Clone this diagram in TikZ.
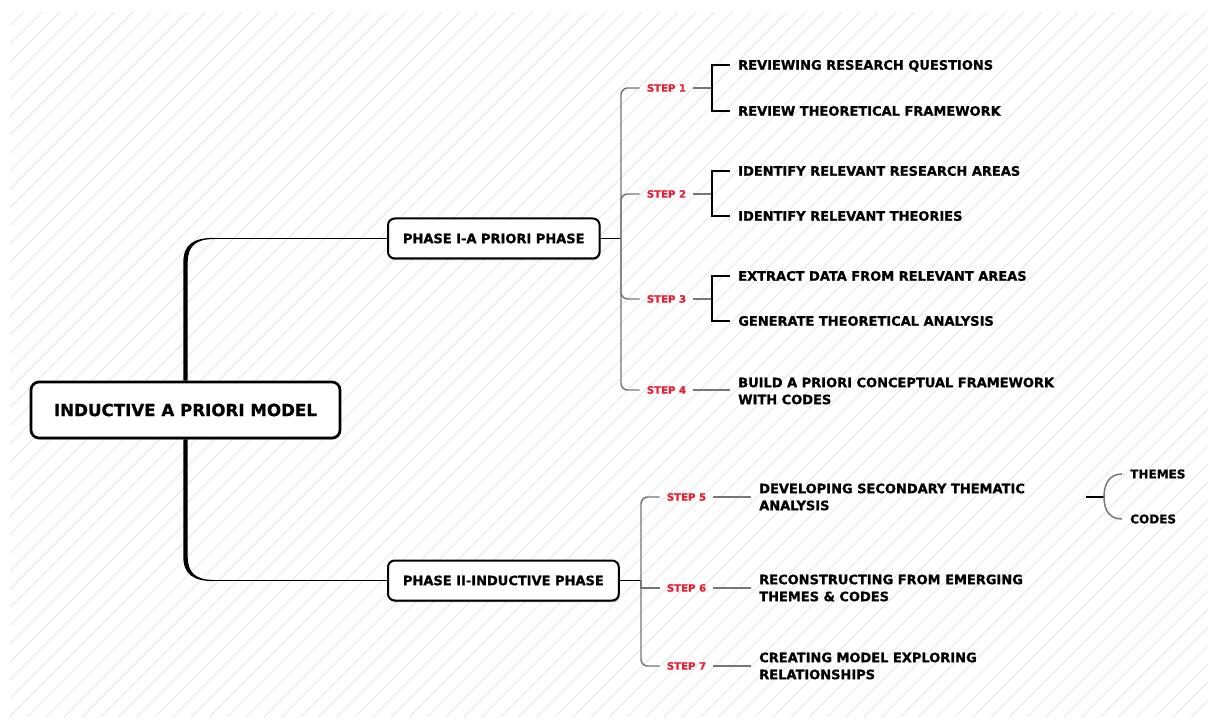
\documentclass[tikz,border=0pt]{standalone}
\usepackage{fontspec}
\setmainfont{DejaVu Sans}
\newfontfamily\heavyfont{DejaVu Sans Bold}[FakeBold=0.9]
\usetikzlibrary{shadows,calc}
\definecolor{stepred}{RGB}{236,30,52}
\definecolor{branchgray}{RGB}{118,118,118}
\definecolor{hatchgray}{RGB}{228,228,228}

\begin{document}
\begin{tikzpicture}[x=0.75pt,y=-0.75pt,
  hatch/.style={draw=hatchgray,line width=0.6pt},
  boxshadow/.style={drop shadow={shadow xshift=0.6pt,shadow yshift=-1.2pt,fill=black,opacity=0.35}},
  rootbox/.style={draw,fill=white,line width=2pt,rounded corners=6pt,
    minimum width=231.75pt,minimum height=42pt,boxshadow,
    font=\fontsize{12.5}{15}\selectfont\heavyfont},
  phasebox/.style={draw,fill=white,line width=1.5pt,rounded corners=5pt,
    minimum height=30pt,inner xsep=11.25pt,anchor=west,boxshadow,
    font=\fontsize{9.75}{12}\selectfont\heavyfont},
  steplabel/.style={text=stepred,inner xsep=5.25pt,inner ysep=0pt,
    text height=5.5pt,text depth=0pt,
    font=\fontsize{7.6}{9}\selectfont\heavyfont},
  leaf/.style={anchor=west,inner xsep=6pt,inner ysep=0pt,align=left,
    font=\fontsize{9.75}{12.75}\selectfont\heavyfont},
  oneline/.style={leaf,text height=7.1pt,text depth=0pt},
  smallleaf/.style={anchor=west,inner xsep=6pt,inner ysep=0pt,
    text height=6.6pt,text depth=0pt,
    font=\fontsize{9}{11}\selectfont\heavyfont},
  link/.style={draw=black,line width=0.9pt},
  thinlink/.style={draw=black,line width=0.8pt},
  branch/.style={draw=branchgray,line width=1.1pt},
  roundbranch/.style={branch,rounded corners=5pt}]

\useasboundingbox (0,0) rectangle (1208,720);
\fill[white] (0,0) rectangle (1208,720);

% diagonal hatching of the canvas
\begin{scope}
  \clip (10,12) rectangle (1208,717);
  \foreach \n in {-3,...,102}{
    \draw[hatch] ({72+18.18*\n-717},717) -- ({72+18.18*\n-12},12);
  }
\end{scope}

% nodes
\node[rootbox] (root) at (185.5,410) {INDUCTIVE A PRIORI MODEL};
\node[phasebox] (p1) at (387,238.5) {PHASE I-A PRIORI PHASE};
\node[phasebox] (p2) at (387,580.5) {PHASE II-INDUCTIVE PHASE};

\node[steplabel] (s1) at (666.5,88) {STEP 1};
\node[steplabel] (s2) at (666.5,194) {STEP 2};
\node[steplabel] (s3) at (666.5,299) {STEP 3};
\node[steplabel] (s4) at (666.5,390) {STEP 4};
\node[steplabel] (s5) at (686.5,497) {STEP 5};
\node[steplabel] (s6) at (686.5,588) {STEP 6};
\node[steplabel] (s7) at (686.5,666) {STEP 7};

\node[oneline] (c1a) at (730,65) {REVIEWING RESEARCH QUESTIONS};
\node[oneline] (c1b) at (730,111) {REVIEW THEORETICAL FRAMEWORK};
\node[oneline] (c2a) at (730,171) {IDENTIFY RELEVANT RESEARCH AREAS};
\node[oneline] (c2b) at (730,216) {IDENTIFY RELEVANT THEORIES};
\node[oneline] (c3a) at (730,276) {EXTRACT DATA FROM RELEVANT AREAS};
\node[oneline] (c3b) at (730,321) {GENERATE THEORETICAL ANALYSIS};
\node[leaf] (c4) at (730,391) {BUILD A PRIORI CONCEPTUAL FRAMEWORK\\WITH CODES};
\node[leaf] (c5) at (751,497) {DEVELOPING SECONDARY THEMATIC\\ANALYSIS};
\node[leaf] (c6) at (751,588) {RECONSTRUCTING FROM EMERGING\\THEMES \& CODES};
\node[leaf] (c7) at (751,666) {CREATING MODEL EXPLORING\\RELATIONSHIPS};
\node[smallleaf] (th) at (1122,474) {THEMES};
\node[smallleaf] (co) at (1122,519) {CODES};

% trunk from the root to both phases, tapering into thin lines
\coordinate (tj1) at (root.north |- p1.west);
\fill ($(root.north)+(-2.2,0)$) -- ($(tj1)+(-2.2,24)$)
  .. controls ($(tj1)+(-2.2,6)$) and ($(tj1)+(8,-0.6)$) .. ($(tj1)+(28,-0.6)$)
  -- ($(tj1)+(28,0.6)$)
  .. controls ($(tj1)+(10,0.6)$) and ($(tj1)+(2.2,8)$) .. ($(tj1)+(2.2,24)$)
  -- ($(root.north)+(2.2,0)$) -- cycle;
\draw[link] ($(tj1)+(27,0)$) -- (p1.west);

\coordinate (tj2) at (root.south |- p2.west);
\fill ($(root.south)+(-2.2,0)$) -- ($(tj2)+(-2.2,-24)$)
  .. controls ($(tj2)+(-2.2,-6)$) and ($(tj2)+(8,0.6)$) .. ($(tj2)+(28,0.6)$)
  -- ($(tj2)+(28,-0.6)$)
  .. controls ($(tj2)+(10,-0.6)$) and ($(tj2)+(2.2,-8)$) .. ($(tj2)+(2.2,-24)$)
  -- ($(root.south)+(2.2,0)$) -- cycle;
\draw[link] ($(tj2)+(27,0)$) -- (p2.west);

% phase I branches
\coordinate (j1) at (621,238.5);
\draw[link] (p1.east) -- (j1);
\draw[roundbranch] (j1) |- (s1.west);
\draw[roundbranch] (j1) |- (s2.west);
\draw[roundbranch] (j1) |- (s3.west);
\draw[roundbranch] (j1) |- (s4.west);

% step brackets
\draw[branch] (s1.east) -- ++(19,0);
\draw[thinlink] (c1a.west) -- ++(-18,0) |- (c1b.west);
\draw[branch] (s2.east) -- ++(19,0);
\draw[thinlink] (c2a.west) -- ++(-18,0) |- (c2b.west);
\draw[branch] (s3.east) -- ++(19,0);
\draw[thinlink] (c3a.west) -- ++(-18,0) |- (c3b.west);
\draw[branch] (s4.east) -- (s4.east -| c4.west);

% phase II branches
\coordinate (j2) at (641,580.5);
\draw[link] (p2.east) -- (j2);
\draw[roundbranch] (j2) |- (s5.west);
\draw[branch] (j2) |- (s6.west);
\draw[roundbranch] (j2) |- (s7.west);
\draw[branch] (s5.east) -- (s5.east -| c5.west);
\draw[branch] (s6.east) -- (s6.east -| c6.west);
\draw[branch] (s7.east) -- (s7.east -| c7.west);

% themes and codes
\coordinate (t5) at (1086,497);
\coordinate (t5b) at (1104,497);
\draw[link] (t5) -- (t5b);
\draw[branch] (t5b) .. controls (1104,483) and (1110,474) .. (th.west);
\draw[branch] (t5b) .. controls (1104,511) and (1110,519) .. (co.west);

\end{tikzpicture}
\end{document}
